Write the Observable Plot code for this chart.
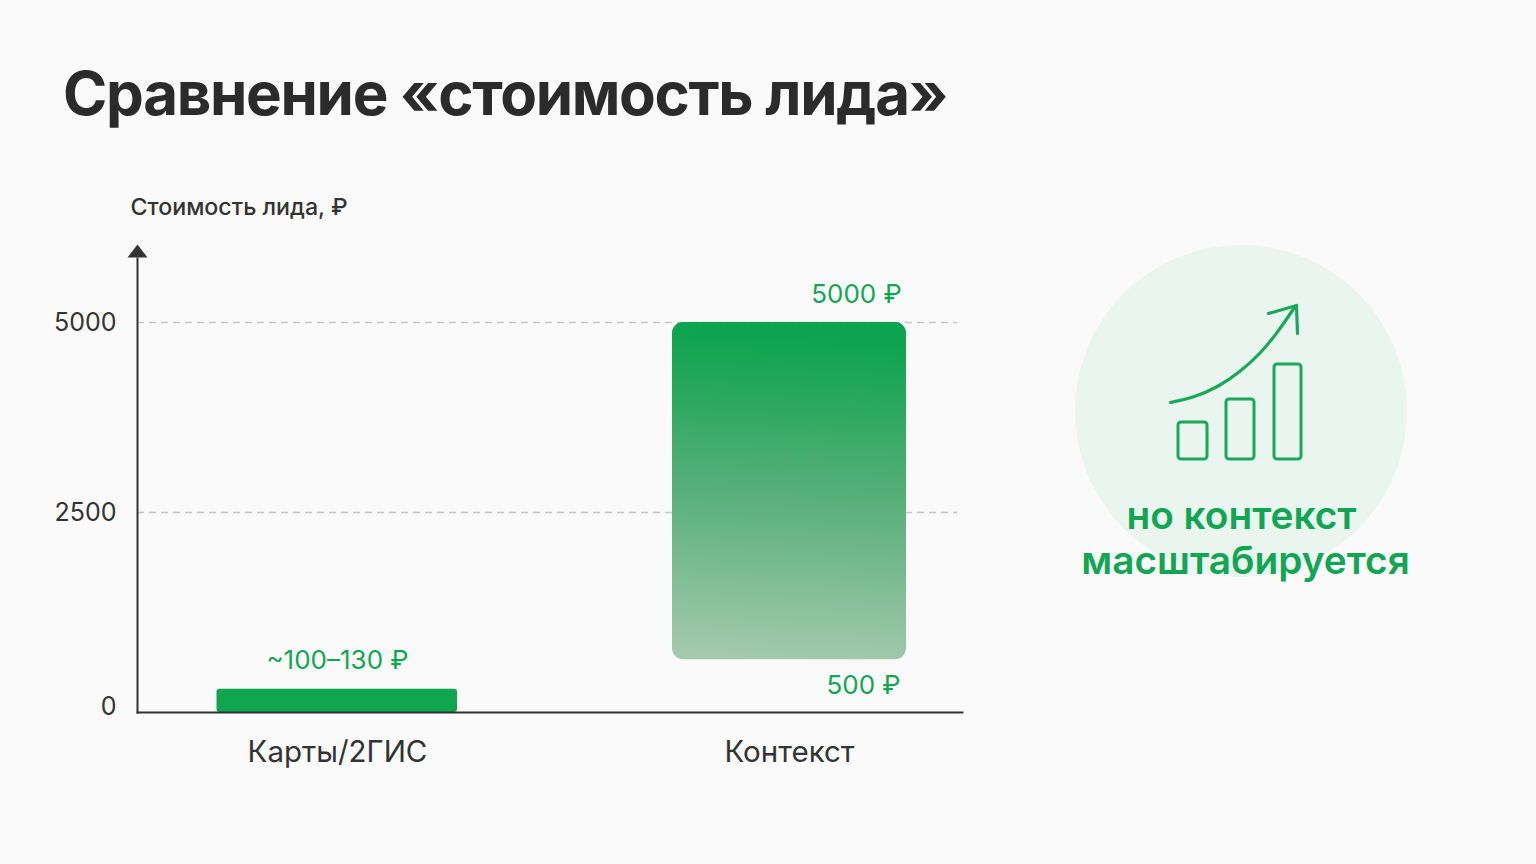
<!DOCTYPE html>
<html lang="ru"><head><meta charset="utf-8">
<script src="https://cdn.jsdelivr.net/npm/d3@7"></script>
<script src="https://cdn.jsdelivr.net/npm/@observablehq/plot@0.6"></script>
<style>
html,body{margin:0;padding:0;background:#fafafa;width:1536px;height:864px;overflow:hidden;font-family:Inter,sans-serif}
h1{position:absolute;left:63px;top:55px;margin:0;font-size:60px;line-height:76px;font-weight:700;color:#2b2b2b;letter-spacing:-1.3px;white-space:nowrap}
#chart{position:absolute;left:0;top:180px}
#side{position:absolute;left:1040px;top:230px}
svg{display:block;background:transparent}
</style></head><body>
<h1>Сравнение «стоимость лида»</h1>
<div id="chart"></div><div id="side"></div>
<script>
const categories = ["Карты/2ГИС", "Контекст"];
const barBottoms = [0, 660];
const barTops = [290, 5000];
const gridValues = [2500, 5000];
const axisTitle = "Стоимость лида, ₽";
const mapsLabel = "~100–130 ₽";
const contextTopLabel = "5000 ₽";
const contextBottomLabel = "500 ₽";
const sideLines = ["но контекст", "масштабируется"];
const iconBarHeights = [37, 60, 95];
const iconBarStarts = [138, 186, 234];
const iconBarEnds = [167, 214, 261];
const trendX = [130, 153, 177, 200, 220, 237, 254];
const trendY = [172, 167, 157, 141, 123, 102, 77];
const arrowX = [228, 256, 257];
const arrowY = [83, 75, 103];

const ink = "#333333", green = "#12a654", iconGreen = "#1aa85a";
const rows = categories.map((c,i)=>({c,y1:barBottoms[i],y2:barTops[i]}));
const arrowHead = {draw(ctx){ctx.moveTo(0,-7);ctx.lineTo(10,6);ctx.lineTo(-10,6);ctx.closePath();}};
const defs = () => d3.create("svg:defs").html(
 '<linearGradient id="fade" x1="0.52" y1="0" x2="0.48" y2="1"><stop offset="0.04" stop-color="#0ca44e"/><stop offset="0.5" stop-color="#55ae78"/><stop offset="1" stop-color="#a3c9ad"/></linearGradient>').node();
// The reference's value axis is not quite linear: 2500 sits slightly above the midpoint.
const bend = d3.scaleLinear([0,2500,5000],[0,2564,5000]);

const chart = Plot.plot({
  width:1536, height:620, marginLeft:137, marginRight:574, marginTop:78, marginBottom:88,
  style:{background:"transparent",fontFamily:"Inter, sans-serif"},
  x:{type:"band",domain:categories,range:[110.25,1015.25],paddingInner:.47,paddingOuter:.235,align:.5,label:null},
  y:{domain:[0,5000],range:[532,142],transform:bend,label:null,axis:null},
  marks:[
    defs,
    Plot.ruleY(gridValues,{stroke:"#c6c6c6",strokeWidth:1.5,strokeDasharray:"7 5",insetRight:5}),
    Plot.barY(rows.slice(0,1),{x:"c",y1:"y1",y2:"y2",fill:"#0fa64f",r:3,insetLeft:-0.5}),
    Plot.barY(rows.slice(1),{x:"c",y1:"y1",y2:"y2",fill:"url(#fade)",r:11,insetLeft:3,insetRight:3}),
    Plot.frame({anchor:"bottom",stroke:ink,strokeWidth:2}),
    Plot.frame({anchor:"left",stroke:ink,strokeWidth:2}),
    Plot.dot([0],{frameAnchor:"top-left",symbol:arrowHead,fill:ink,stroke:"none",r:5,dy:-7}),
    Plot.text(gridValues,{y:d=>d,text:d=>String(d),frameAnchor:"left",textAnchor:"end",dx:-21,dy:0,fontSize:25,fill:ink}),
    Plot.text([0],{y:d=>d,text:d=>String(d),frameAnchor:"left",textAnchor:"end",dx:-21,dy:-6,fontSize:25,fill:ink}),
    Plot.axisX({tickSize:0,tickPadding:29,fontSize:29.5,color:ink,label:null}),
    Plot.text([axisTitle],{frameAnchor:"top-left",text:d=>d,textAnchor:"start",dx:-7,dy:-60,fontSize:23.2,fontWeight:500,fill:ink}),
    Plot.text([mapsLabel],{x:[categories[0]],y:[barTops[0]],text:d=>d,fontSize:26,fill:green,dy:-29}),
    Plot.text([contextTopLabel],{x:[categories[1]],y:[barTops[1]],text:d=>d,fontSize:26,fill:green,dx:67,dy:-28}),
    Plot.text([contextBottomLabel],{x:[categories[1]],y:[barBottoms[1]],text:d=>d,fontSize:26,fill:green,dx:74,dy:26})
  ]
});
document.getElementById("chart").append(chart);

const base = 229;
const side = Plot.plot({
  width:400, height:370, margin:0,
  style:{background:"transparent",fontFamily:"Inter, sans-serif"},
  x:{domain:[0,400],range:[0,400],axis:null},
  y:{domain:[0,370],range:[0,370],axis:null},
  marks:[
    Plot.dot([0],{x:()=>200.5,y:()=>180.5,r:166,fill:"#e9f5ee",stroke:"none"}),
    Plot.rect(iconBarHeights,{x1:iconBarStarts,x2:iconBarEnds,y1:iconBarHeights.map(h=>base-h),y2:iconBarHeights.map(()=>base),fill:"none",stroke:iconGreen,strokeWidth:3,rx:3}),
    Plot.line(trendX.map((x,i)=>[x,trendY[i]]),{curve:"basis",stroke:iconGreen,strokeWidth:3.2}),
    Plot.line(arrowX.map((x,i)=>[x,arrowY[i]]),{stroke:iconGreen,strokeWidth:3.2}),
    Plot.text([sideLines[0]],{x:()=>201,y:()=>286,text:d=>d,fontSize:38.8,fontWeight:600,fill:green}),
    Plot.text([sideLines[1]],{x:()=>205,y:()=>331,text:d=>d,fontSize:38.8,fontWeight:600,fill:green})
  ]
});
document.getElementById("side").append(side);
</script></body></html>
